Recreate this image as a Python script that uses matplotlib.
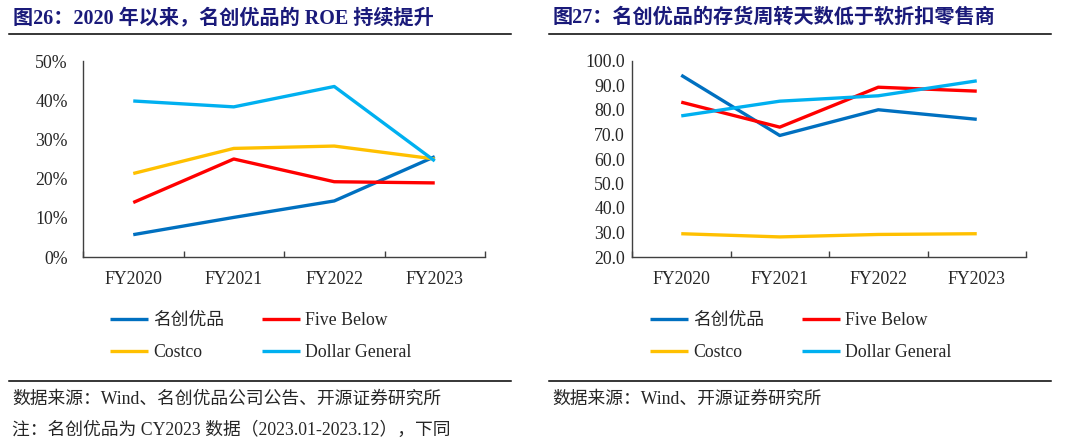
import matplotlib
matplotlib.use("Agg")
import matplotlib.pyplot as plt
from matplotlib.lines import Line2D
from matplotlib.ticker import FixedLocator, FuncFormatter

plt.rcParams["font.family"] = ["Liberation Serif", "Noto Sans CJK SC", "DejaVu Sans"]

# ---- data ----
years = ["FY2020", "FY2021", "FY2022", "FY2023"]
series_names = ["名创优品", "Five Below", "Costco", "Dollar General"]
colors = ["#0070C0", "#FF0000", "#FFC000", "#00B0F0"]

# 图26: ROE (%)
roe_miniso = [5.7, 10.1, 14.3, 25.6]
roe_five_below = [13.9, 25.0, 19.2, 18.9]
roe_costco = [21.3, 27.7, 28.3, 25.0]
roe_dollar_general = [39.8, 38.3, 43.5, 24.5]

# 图27: inventory turnover days
inv_miniso = [94.2, 69.6, 80.1, 76.2]
inv_five_below = [83.2, 73.0, 89.3, 87.7]
inv_costco = [29.5, 28.2, 29.2, 29.5]
inv_dollar_general = [77.6, 83.6, 85.8, 91.9]

title_left = "图26：2020 年以来，名创优品的 ROE 持续提升"
title_right = "图27：名创优品的存货周转天数低于软折扣零售商"
source_left = "数据来源：Wind、名创优品公司公告、开源证券研究所"
note_left = "注：名创优品为 CY2023 数据（2023.01-2023.12），下同"
source_right = "数据来源：Wind、开源证券研究所"

W, H = 1080, 444
fig = plt.figure(figsize=(W / 100, H / 100), dpi=100)

AX_COLOR = "#404040"
TXT_COLOR = "#262626"
TITLE_COLOR = "#1a1a7a"
FS = 12.8


def px(x, y):
    return x / W, 1 - y / H


def style_axis(ax, ypad):
    x = list(range(len(years)))
    ax.set_xlim(-0.5, len(years) - 0.5)
    ax.set_xticks(x)
    ax.set_xticklabels(years)
    ax.xaxis.set_minor_locator(FixedLocator([i - 0.5 for i in range(len(years) + 1)]))
    ax.tick_params(axis="x", which="major", length=0, pad=10, labelsize=FS, colors=TXT_COLOR)
    ax.tick_params(axis="x", which="minor", direction="in", length=4.5, width=1, color=AX_COLOR)
    ax.tick_params(axis="y", length=0, pad=ypad, labelsize=FS, colors=TXT_COLOR)
    for s in ["top", "right"]:
        ax.spines[s].set_visible(False)
    for s in ["left", "bottom"]:
        ax.spines[s].set_color(AX_COLOR)
        ax.spines[s].set_linewidth(1)


def add_legend(ax, handles, x0):
    # legend fills column-first; reorder so rows read 名创优品/Five Below, Costco/Dollar General
    order = [0, 2, 1, 3]
    ax.legend(
        [handles[i] for i in order], [series_names[i] for i in order],
        ncol=2, loc="upper left",
        bbox_to_anchor=px(x0, 312), bbox_transform=fig.transFigure,
        frameon=False, fontsize=FS, handlelength=2.15, handletextpad=0.3,
        columnspacing=2.1, labelspacing=0.85, borderpad=0, borderaxespad=0,
    )
    for t in ax.get_legend().get_texts():
        t.set_color(TXT_COLOR)


def frame_text(x_off, title, footer_lines):
    fig.text(*px(x_off + 13, 18), title, fontsize=14.5, fontweight="bold",
             color=TITLE_COLOR, va="center", ha="left")
    fig.add_artist(Line2D([(x_off + 9) / W, (x_off + 511) / W], [1 - 34 / H] * 2,
                          color="black", lw=1.1, transform=fig.transFigure))
    fig.add_artist(Line2D([(x_off + 9) / W, (x_off + 511) / W], [1 - 381 / H] * 2,
                          color="black", lw=1.1, transform=fig.transFigure))
    for i, s in enumerate(footer_lines):
        fig.text(*px(x_off + 12, 399 + 31 * i), s, fontsize=12.8, color=TXT_COLOR,
                 va="center", ha="left")


# ---- left chart ----
axL = fig.add_axes([83 / W, 1 - 257 / H, (485 - 83) / W, (257 - 61) / H])
hl = []
for vals, c in zip([roe_miniso, roe_five_below, roe_costco, roe_dollar_general], colors):
    (l,) = axL.plot(range(len(years)), vals, color=c, lw=2.4, solid_capstyle="butt")
    hl.append(l)
axL.set_ylim(0, 50)
axL.set_yticks(range(0, 51, 10))
axL.yaxis.set_major_formatter(FuncFormatter(lambda v, p: f"{v:.0f}%"))
style_axis(axL, ypad=11)
add_legend(axL, hl, 110)
frame_text(0, title_left, [source_left, note_left])

# ---- right chart ----
axR = fig.add_axes([632 / W, 1 - 257 / H, (1026 - 632) / W, (257 - 61) / H])
hr = []
for vals, c in zip([inv_miniso, inv_five_below, inv_costco, inv_dollar_general], colors):
    (l,) = axR.plot(range(len(years)), vals, color=c, lw=2.4, solid_capstyle="butt")
    hr.append(l)
axR.set_ylim(20, 100)
axR.set_yticks(range(20, 101, 10))
axR.yaxis.set_major_formatter(FuncFormatter(lambda v, p: f"{v:.1f}"))
style_axis(axR, ypad=5)
add_legend(axR, hr, 650)
frame_text(540, title_right, [source_right])

fig.savefig("out.png", dpi=100)
